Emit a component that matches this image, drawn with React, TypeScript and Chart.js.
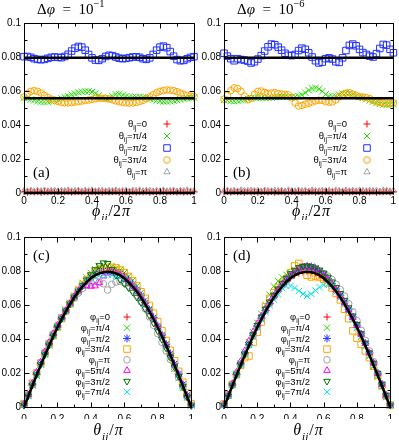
import React, { useEffect, useRef } from 'react';
import { Chart, registerables } from 'chart.js';
Chart.register(...registerables);

// ---------- data ----------
const PHI = [
  0, 0.02, 0.04, 0.06, 0.08, 0.1, 0.12, 0.14, 0.16, 0.18,
  0.2, 0.22, 0.24, 0.26, 0.28, 0.3, 0.32, 0.34, 0.36, 0.38,
  0.4, 0.42, 0.44, 0.46, 0.48, 0.5, 0.52, 0.54, 0.56, 0.58,
  0.6, 0.62, 0.64, 0.66, 0.68, 0.7, 0.72, 0.74, 0.76, 0.78,
  0.8, 0.82, 0.84, 0.86, 0.88, 0.9, 0.92, 0.94, 0.96, 0.98,
  1,
];
const THETA = [
  0, 0.025, 0.05, 0.075, 0.1, 0.125, 0.15, 0.175, 0.2, 0.225,
  0.25, 0.275, 0.3, 0.325, 0.35, 0.375, 0.4, 0.425, 0.45, 0.475,
  0.5, 0.525, 0.55, 0.575, 0.6, 0.625, 0.65, 0.675, 0.7, 0.725,
  0.75, 0.775, 0.8, 0.825, 0.85, 0.875, 0.9, 0.925, 0.95, 0.975,
  1,
];

// panel (a): Δφ = 10^-1
const A_RED = [
  0.0008, 0.0005, 0.0009, 0.0006, 0.0010, 0.0004, 0.0008, 0.0007, 0.0011, 0.0005,
  0.0009, 0.0006, 0.0008, 0.0010, 0.0005, 0.0007, 0.0009, 0.0006, 0.0011, 0.0004,
  0.0008, 0.0007, 0.0010, 0.0005, 0.0009, 0.0006, 0.0008, 0.0011, 0.0004, 0.0007,
  0.0009, 0.0006, 0.0010, 0.0005, 0.0008, 0.0007, 0.0011, 0.0004, 0.0009, 0.0006,
  0.0008, 0.0010, 0.0005, 0.0007, 0.0009, 0.0006, 0.0011, 0.0005, 0.0008, 0.0007,
  0.0009,
];
const A_GREEN = [
  0.0560, 0.0556, 0.0550, 0.0545, 0.0540, 0.0537, 0.0536, 0.0537, 0.0540, 0.0545,
  0.0550, 0.0556, 0.0563, 0.0570, 0.0578, 0.0585, 0.0591, 0.0596, 0.0598, 0.0598,
  0.0594, 0.0586, 0.0574, 0.0562, 0.0556, 0.0560, 0.0570, 0.0580, 0.0582, 0.0576,
  0.0568, 0.0564, 0.0563, 0.0564, 0.0565, 0.0563, 0.0560, 0.0555, 0.0550, 0.0545,
  0.0541, 0.0539, 0.0538, 0.0540, 0.0543, 0.0547, 0.0551, 0.0555, 0.0558, 0.0560,
  0.0561,
];
const A_BLUE = [
  0.0802, 0.0803, 0.0798, 0.0790, 0.0786, 0.0784, 0.0786, 0.0792, 0.0798, 0.0800,
  0.0798, 0.0796, 0.0803, 0.0816, 0.0835, 0.0852, 0.0862, 0.0858, 0.0840, 0.0815,
  0.0795, 0.0782, 0.0780, 0.0790, 0.0803, 0.0810, 0.0808, 0.0800, 0.0793, 0.0790,
  0.0792, 0.0796, 0.0800, 0.0801, 0.0798, 0.0790, 0.0786, 0.0795, 0.0815, 0.0840,
  0.0858, 0.0864, 0.0855, 0.0832, 0.0805, 0.0785, 0.0778, 0.0780, 0.0790, 0.0798,
  0.0802,
];
const A_ORANGE = [
  0.0565, 0.0585, 0.0598, 0.0602, 0.0598, 0.0588, 0.0575, 0.0562, 0.0552, 0.0545,
  0.0538, 0.0533, 0.0530, 0.0530, 0.0532, 0.0535, 0.0538, 0.0541, 0.0544, 0.0547,
  0.0550, 0.0555, 0.0558, 0.0558, 0.0556, 0.0553, 0.0548, 0.0542, 0.0537, 0.0533,
  0.0530, 0.0529, 0.0530, 0.0533, 0.0538, 0.0545, 0.0555, 0.0566, 0.0578, 0.0590,
  0.0598, 0.0603, 0.0606, 0.0605, 0.0602, 0.0596, 0.0588, 0.0580, 0.0574, 0.0570,
  0.0568,
];
const A_GRAY = [
  0.0012, 0.0010, 0.0014, 0.0009, 0.0013, 0.0011, 0.0015, 0.0010, 0.0012, 0.0014,
  0.0009, 0.0013, 0.0011, 0.0015, 0.0010, 0.0012, 0.0014, 0.0009, 0.0013, 0.0011,
  0.0015, 0.0010, 0.0012, 0.0014, 0.0009, 0.0013, 0.0011, 0.0015, 0.0010, 0.0012,
  0.0014, 0.0009, 0.0013, 0.0011, 0.0015, 0.0010, 0.0012, 0.0014, 0.0009, 0.0013,
  0.0011, 0.0015, 0.0010, 0.0012, 0.0014, 0.0009, 0.0013, 0.0011, 0.0015, 0.0010,
  0.0012,
];

// panel (b): Δφ = 10^-6
const B_RED = [
  0.0006, 0.0009, 0.0005, 0.0010, 0.0007, 0.0008, 0.0004, 0.0011, 0.0006, 0.0009,
  0.0005, 0.0008, 0.0010, 0.0006, 0.0009, 0.0004, 0.0008, 0.0011, 0.0005, 0.0007,
  0.0009, 0.0006, 0.0010, 0.0004, 0.0008, 0.0007, 0.0011, 0.0005, 0.0009, 0.0006,
  0.0008, 0.0010, 0.0005, 0.0007, 0.0009, 0.0004, 0.0011, 0.0006, 0.0008, 0.0010,
  0.0005, 0.0007, 0.0009, 0.0006, 0.0011, 0.0004, 0.0008, 0.0007, 0.0010, 0.0005,
  0.0008,
];
const B_GREEN = [
  0.0548, 0.0545, 0.0542, 0.0540, 0.0542, 0.0546, 0.0550, 0.0555, 0.0558, 0.0560,
  0.0561, 0.0560, 0.0560, 0.0561, 0.0562, 0.0564, 0.0566, 0.0567, 0.0567, 0.0566,
  0.0565, 0.0566, 0.0570, 0.0578, 0.0590, 0.0605, 0.0615, 0.0618, 0.0612, 0.0598,
  0.0580, 0.0568, 0.0566, 0.0570, 0.0578, 0.0585, 0.0588, 0.0586, 0.0580, 0.0572,
  0.0565, 0.0560, 0.0552, 0.0545, 0.0538, 0.0530, 0.0524, 0.0520, 0.0518, 0.0520,
  0.0524,
];
const B_BLUE = [
  0.0822, 0.0805, 0.0790, 0.0778, 0.0790, 0.0785, 0.0782, 0.0776, 0.0765, 0.0772,
  0.0788, 0.0808, 0.0835, 0.0860, 0.0876, 0.0872, 0.0858, 0.0840, 0.0822, 0.0810,
  0.0808, 0.0815, 0.0838, 0.0852, 0.0845, 0.0825, 0.0800, 0.0778, 0.0765, 0.0770,
  0.0790, 0.0795, 0.0788, 0.0772, 0.0768, 0.0795, 0.0838, 0.0868, 0.0876, 0.0866,
  0.0845, 0.0826, 0.0815, 0.0805, 0.0800, 0.0820, 0.0850, 0.0874, 0.0870, 0.0845,
  0.0825,
];
const B_ORANGE = [
  0.0552, 0.0575, 0.0602, 0.0618, 0.0615, 0.0598, 0.0570, 0.0548, 0.0556, 0.0580,
  0.0598, 0.0600, 0.0592, 0.0586, 0.0588, 0.0590, 0.0585, 0.0582, 0.0580, 0.0578,
  0.0560, 0.0530, 0.0512, 0.0515, 0.0522, 0.0528, 0.0535, 0.0542, 0.0546, 0.0545,
  0.0538, 0.0534, 0.0536, 0.0548, 0.0565, 0.0580, 0.0588, 0.0590, 0.0582, 0.0572,
  0.0566, 0.0565, 0.0562, 0.0555, 0.0545, 0.0536, 0.0532, 0.0530, 0.0528, 0.0527,
  0.0530,
];
const B_GRAY = [
  0.0011, 0.0014, 0.0010, 0.0013, 0.0009, 0.0015, 0.0012, 0.0010, 0.0014, 0.0011,
  0.0013, 0.0009, 0.0015, 0.0012, 0.0010, 0.0014, 0.0011, 0.0013, 0.0009, 0.0015,
  0.0012, 0.0010, 0.0014, 0.0011, 0.0013, 0.0009, 0.0015, 0.0012, 0.0010, 0.0014,
  0.0011, 0.0013, 0.0009, 0.0015, 0.0012, 0.0010, 0.0014, 0.0011, 0.0013, 0.0009,
  0.0015, 0.0012, 0.0010, 0.0014, 0.0011, 0.0013, 0.0009, 0.0015, 0.0012, 0.0010,
  0.0013,
];
// reference levels in (a) and (b)
const TOP_LEVELS = [0.0796, 0.0557, 0];

// reference curve in (c) and (d)
const CURVE = [
  0, 0.0062, 0.0125, 0.0186, 0.0246, 0.0305, 0.0361, 0.0416, 0.0468, 0.0517,
  0.0563, 0.0605, 0.0644, 0.0679, 0.0709, 0.0735, 0.0757, 0.0774, 0.0786, 0.0793,
  0.0796, 0.0793, 0.0786, 0.0774, 0.0757, 0.0735, 0.0709, 0.0679, 0.0644, 0.0605,
  0.0563, 0.0517, 0.0468, 0.0416, 0.0361, 0.0305, 0.0246, 0.0186, 0.0125, 0.0062,
  0,
];

// panel (c)
const C_P0 = [
  0.0008, 0.0068, 0.0130, 0.0192, 0.0250, 0.0310, 0.0365, 0.0420, 0.0472, 0.0520,
  0.0566, 0.0608, 0.0647, 0.0682, 0.0712, 0.0738, 0.0760, 0.0777, 0.0789, 0.0796,
  0.0799, 0.0796, 0.0789, 0.0777, 0.0760, 0.0738, 0.0712, 0.0682, 0.0647, 0.0608,
  0.0566, 0.0520, 0.0472, 0.0420, 0.0365, 0.0310, 0.0250, 0.0192, 0.0130, 0.0068,
  0.0008,
];
const C_P1 = [
  0.0012, 0.0070, 0.0128, 0.0184, 0.0250, 0.0315, 0.0372, 0.0425, 0.0475, 0.0528,
  0.0572, 0.0612, 0.0655, 0.0695, 0.0730, 0.0762, 0.0790, 0.0812, 0.0826, 0.0834,
  0.0830, 0.0826, 0.0818, 0.0808, 0.0790, 0.0770, 0.0745, 0.0712, 0.0672, 0.0628,
  0.0578, 0.0525, 0.0470, 0.0412, 0.0350, 0.0290, 0.0226, 0.0170, 0.0112, 0.0055,
  0.0010,
];
const C_P2 = [
  0.0015, 0.0066, 0.0130, 0.0192, 0.0252, 0.0310, 0.0366, 0.0420, 0.0470, 0.0520,
  0.0565, 0.0606, 0.0645, 0.0680, 0.0712, 0.0740, 0.0765, 0.0785, 0.0798, 0.0803,
  0.0802, 0.0800, 0.0795, 0.0785, 0.0770, 0.0748, 0.0722, 0.0690, 0.0655, 0.0615,
  0.0572, 0.0527, 0.0478, 0.0425, 0.0370, 0.0315, 0.0256, 0.0196, 0.0134, 0.0070,
  0.0015,
];
const C_P3 = [
  0.0020, 0.0075, 0.0140, 0.0200, 0.0258, 0.0315, 0.0368, 0.0420, 0.0470, 0.0520,
  0.0566, 0.0608, 0.0648, 0.0685, 0.0718, 0.0748, 0.0772, 0.0792, 0.0808, 0.0818,
  0.0822, 0.0822, 0.0818, 0.0806, 0.0790, 0.0768, 0.0742, 0.0712, 0.0678, 0.0640,
  0.0598, 0.0552, 0.0502, 0.0448, 0.0392, 0.0334, 0.0272, 0.0210, 0.0146, 0.0082,
  0.0020,
];
const C_P4 = [
  0.0015, 0.0072, 0.0138, 0.0200, 0.0262, 0.0322, 0.0378, 0.0430, 0.0480, 0.0525,
  0.0566, 0.0604, 0.0640, 0.0670, 0.0698, 0.0720, 0.0735, 0.0740, 0.0735, 0.0725,
  0.0688, 0.0722, 0.0735, 0.0738, 0.0730, 0.0712, 0.0688, 0.0655, 0.0618, 0.0578,
  0.0530, 0.0480, 0.0432, 0.0380, 0.0330, 0.0280, 0.0228, 0.0172, 0.0116, 0.0058,
  0.0012,
];
const C_P5 = [
  0.0018, 0.0072, 0.0140, 0.0205, 0.0265, 0.0325, 0.0380, 0.0432, 0.0480, 0.0525,
  0.0568, 0.0610, 0.0650, 0.0684, 0.0712, 0.0712, 0.0710, 0.0712, 0.0730, 0.0770,
  0.0788, 0.0792, 0.0786, 0.0772, 0.0755, 0.0735, 0.0708, 0.0678, 0.0644, 0.0605,
  0.0562, 0.0516, 0.0468, 0.0416, 0.0362, 0.0306, 0.0248, 0.0190, 0.0130, 0.0068,
  0.0010,
];
const C_P6 = [
  0.0010, 0.0065, 0.0128, 0.0190, 0.0250, 0.0308, 0.0364, 0.0418, 0.0470, 0.0519,
  0.0565, 0.0607, 0.0646, 0.0682, 0.0716, 0.0748, 0.0778, 0.0808, 0.0832, 0.0848,
  0.0845, 0.0810, 0.0775, 0.0750, 0.0726, 0.0702, 0.0676, 0.0646, 0.0614, 0.0578,
  0.0538, 0.0494, 0.0448, 0.0398, 0.0346, 0.0292, 0.0236, 0.0180, 0.0120, 0.0060,
  0.0008,
];
const C_P7 = [
  0.0012, 0.0066, 0.0128, 0.0190, 0.0250, 0.0308, 0.0363, 0.0418, 0.0470, 0.0519,
  0.0565, 0.0606, 0.0644, 0.0679, 0.0710, 0.0736, 0.0756, 0.0768, 0.0775, 0.0778,
  0.0778, 0.0776, 0.0772, 0.0764, 0.0752, 0.0734, 0.0710, 0.0681, 0.0646, 0.0607,
  0.0565, 0.0519, 0.0470, 0.0418, 0.0363, 0.0307, 0.0248, 0.0188, 0.0127, 0.0065,
  0.0010,
];

// panel (d)
const D_P0 = [
  0.0010, 0.0064, 0.0128, 0.0190, 0.0250, 0.0308, 0.0364, 0.0418, 0.0470, 0.0519,
  0.0565, 0.0607, 0.0646, 0.0681, 0.0711, 0.0737, 0.0759, 0.0776, 0.0788, 0.0795,
  0.0798, 0.0795, 0.0788, 0.0776, 0.0759, 0.0737, 0.0711, 0.0681, 0.0646, 0.0607,
  0.0565, 0.0519, 0.0470, 0.0418, 0.0364, 0.0308, 0.0250, 0.0190, 0.0128, 0.0064,
  0.0010,
];
const D_P1 = [
  0.0012, 0.0068, 0.0132, 0.0196, 0.0258, 0.0320, 0.0382, 0.0440, 0.0495, 0.0548,
  0.0600, 0.0660, 0.0710, 0.0742, 0.0762, 0.0778, 0.0790, 0.0806, 0.0818, 0.0826,
  0.0828, 0.0825, 0.0815, 0.0800, 0.0778, 0.0752, 0.0722, 0.0690, 0.0652, 0.0610,
  0.0565, 0.0516, 0.0466, 0.0412, 0.0356, 0.0298, 0.0238, 0.0178, 0.0118, 0.0058,
  0.0010,
];
const D_P2 = [
  0.0012, 0.0068, 0.0130, 0.0192, 0.0252, 0.0312, 0.0368, 0.0422, 0.0474, 0.0522,
  0.0568, 0.0610, 0.0650, 0.0686, 0.0718, 0.0746, 0.0770, 0.0792, 0.0810, 0.0822,
  0.0828, 0.0826, 0.0815, 0.0800, 0.0780, 0.0755, 0.0726, 0.0694, 0.0658, 0.0618,
  0.0575, 0.0530, 0.0482, 0.0430, 0.0375, 0.0318, 0.0258, 0.0196, 0.0134, 0.0070,
  0.0012,
];
const D_P3 = [
  0.0018, 0.0072, 0.0132, 0.0190, 0.0245, 0.0290, 0.0300, 0.0380, 0.0440, 0.0500,
  0.0590, 0.0640, 0.0672, 0.0700, 0.0728, 0.0752, 0.0790, 0.0830, 0.0845, 0.0820,
  0.0775, 0.0765, 0.0770, 0.0762, 0.0752, 0.0730, 0.0700, 0.0668, 0.0630, 0.0575,
  0.0520, 0.0448, 0.0405, 0.0368, 0.0330, 0.0290, 0.0240, 0.0185, 0.0125, 0.0065,
  0.0012,
];
const D_P4 = [
  0.0015, 0.0066, 0.0128, 0.0190, 0.0250, 0.0309, 0.0365, 0.0420, 0.0472, 0.0522,
  0.0568, 0.0610, 0.0650, 0.0686, 0.0718, 0.0746, 0.0770, 0.0790, 0.0806, 0.0818,
  0.0822, 0.0818, 0.0810, 0.0798, 0.0785, 0.0770, 0.0750, 0.0722, 0.0690, 0.0652,
  0.0608, 0.0560, 0.0508, 0.0452, 0.0392, 0.0330, 0.0266, 0.0200, 0.0134, 0.0068,
  0.0012,
];
const D_P5 = [
  0.0015, 0.0072, 0.0138, 0.0204, 0.0268, 0.0330, 0.0388, 0.0442, 0.0490, 0.0535,
  0.0578, 0.0618, 0.0655, 0.0690, 0.0722, 0.0750, 0.0775, 0.0796, 0.0812, 0.0822,
  0.0826, 0.0820, 0.0808, 0.0792, 0.0772, 0.0748, 0.0720, 0.0688, 0.0652, 0.0612,
  0.0570, 0.0525, 0.0478, 0.0428, 0.0374, 0.0318, 0.0258, 0.0196, 0.0132, 0.0068,
  0.0010,
];
const D_P6 = [
  0.0010, 0.0065, 0.0128, 0.0190, 0.0250, 0.0312, 0.0370, 0.0426, 0.0480, 0.0530,
  0.0576, 0.0618, 0.0658, 0.0695, 0.0728, 0.0758, 0.0785, 0.0805, 0.0820, 0.0828,
  0.0830, 0.0826, 0.0818, 0.0806, 0.0788, 0.0764, 0.0736, 0.0704, 0.0668, 0.0628,
  0.0584, 0.0536, 0.0486, 0.0432, 0.0376, 0.0318, 0.0258, 0.0196, 0.0132, 0.0068,
  0.0010,
];
const D_P7 = [
  0.0010, 0.0066, 0.0130, 0.0192, 0.0252, 0.0310, 0.0365, 0.0418, 0.0468, 0.0515,
  0.0558, 0.0598, 0.0632, 0.0662, 0.0700, 0.0712, 0.0712, 0.0700, 0.0682, 0.0665,
  0.0653, 0.0665, 0.0685, 0.0705, 0.0718, 0.0722, 0.0709, 0.0679, 0.0644, 0.0605,
  0.0563, 0.0517, 0.0468, 0.0416, 0.0361, 0.0305, 0.0246, 0.0186, 0.0125, 0.0062,
  0.0010,
];

// ticks / labels
const X_MAJOR = [0, 0.2, 0.4, 0.6, 0.8, 1];
const X_MINOR = [0.1, 0.3, 0.5, 0.7, 0.9];
const Y_MAJOR = [0, 0.02, 0.04, 0.06, 0.08, 0.1];
const Y_MINOR = [0.01, 0.03, 0.05, 0.07, 0.09];
const TOP_LEGEND = ['0', 'π/4', 'π/2', '3π/4', 'π'];
const BOT_LEGEND = ['0', 'π/4', 'π/2', '3π/4', 'π', '5π/4', '3π/2', '7π/4'];

// ---------- styles ----------
type St = { style: string; r: number; color: string; rot?: number; w?: number };
const TOP_STYLES: St[] = [
  { style: 'cross', r: 3.5, color: '#ff0000' },
  { style: 'crossRot', r: 4.5, color: '#22dd00' },
  { style: 'rect', r: 4.6, color: '#1f2fff' },
  { style: 'circle', r: 3.3, color: '#ffa500' },
  { style: 'triangle', r: 3.6, color: '#a0a0a0' },
];
const BOT_STYLES: St[] = [
  { style: 'cross', r: 3.5, color: '#ff0000' },
  { style: 'crossRot', r: 4.5, color: '#22dd00' },
  { style: 'star', r: 4, color: '#1f2fff' },
  { style: 'rect', r: 4.6, color: '#ffa500' },
  { style: 'circle', r: 3.3, color: '#a0a0a0' },
  { style: 'triangle', r: 3.8, color: '#ff00ff' },
  { style: 'triangle', r: 3.8, color: '#007000', rot: 180 },
  { style: 'crossRot', r: 4.5, color: '#00e0e8' },
];

const SERIF = "'Liberation Serif', 'DejaVu Serif', serif";
const SANS = "'Liberation Sans', 'DejaVu Sans', sans-serif";

type Seg = { t: string; sub?: boolean; sup?: boolean; it?: boolean };

function drawRich(ctx: CanvasRenderingContext2D, segs: Seg[], x: number, y: number,
  align: string, size: number, family: string, gap = 0) {
  const fontOf = (s: Seg) => `${s.it ? 'italic ' : ''}${(s.sub || s.sup) ? size * 0.7 : size}px ${family}`;
  const widths = segs.map((s) => { ctx.font = fontOf(s); return ctx.measureText(s.t).width; });
  const w = widths.reduce((a, b) => a + b, 0) + gap * (segs.length - 1);
  let cx = align === 'left' ? x : align === 'right' ? x - w : x - w / 2;
  ctx.textAlign = 'left';
  ctx.textBaseline = 'alphabetic';
  segs.forEach((s, i) => {
    ctx.font = fontOf(s);
    const dy = s.sub ? size * 0.3 : s.sup ? -size * 0.45 : 0;
    ctx.fillText(s.t, cx, y + dy);
    cx += widths[i] + gap;
  });
}

function drawMarker(ctx: CanvasRenderingContext2D, st: St, x: number, y: number) {
  const r = st.r;
  ctx.beginPath();
  if (st.style === 'circle') {
    ctx.arc(x, y, r, 0, Math.PI * 2);
  } else if (st.style === 'rect') {
    const s = r * Math.SQRT1_2;
    ctx.rect(x - s, y - s, 2 * s, 2 * s);
  } else if (st.style === 'triangle') {
    let a = ((st.rot || 0) * Math.PI) / 180;
    for (let k = 0; k < 3; k++) {
      const px = x + Math.sin(a) * r;
      const py = y - Math.cos(a) * r;
      if (k === 0) ctx.moveTo(px, py); else ctx.lineTo(px, py);
      a += (2 * Math.PI) / 3;
    }
    ctx.closePath();
  } else {
    if (st.style === 'cross' || st.style === 'star') {
      ctx.moveTo(x - r, y); ctx.lineTo(x + r, y);
      ctx.moveTo(x, y - r); ctx.lineTo(x, y + r);
    }
    if (st.style === 'crossRot' || st.style === 'star') {
      const d = r * Math.SQRT1_2;
      ctx.moveTo(x - d, y - d); ctx.lineTo(x + d, y + d);
      ctx.moveTo(x - d, y + d); ctx.lineTo(x + d, y - d);
    }
  }
  ctx.strokeStyle = st.color;
  ctx.lineWidth = st.w ?? 1;
  ctx.stroke();
}

const decorPlugin = {
  id: 'decor',
  afterDatasetsDraw(chart: any) {
    const ctx: CanvasRenderingContext2D = chart.ctx;
    const { left, right, top, bottom } = chart.chartArea;
    const xs = chart.scales.x;
    const ys = chart.scales.y;
    ctx.save();
    ctx.strokeStyle = '#000';
    ctx.lineWidth = 1;
    ctx.beginPath();
    const L = Math.round(left) + 0.5, R = Math.round(right) + 0.5;
    const T = Math.round(top) + 0.5, B = Math.round(bottom) + 0.5;
    ctx.rect(L, T, R - L, B - T);
    const xt = (v: number, len: number) => {
      const p = Math.round(xs.getPixelForValue(v)) + 0.5;
      ctx.moveTo(p, B); ctx.lineTo(p, B - len);
      ctx.moveTo(p, T); ctx.lineTo(p, T + len);
    };
    const yt = (v: number, len: number) => {
      const p = Math.round(ys.getPixelForValue(v)) + 0.5;
      ctx.moveTo(L, p); ctx.lineTo(L + len, p);
      ctx.moveTo(R, p); ctx.lineTo(R - len, p);
    };
    X_MAJOR.forEach((v) => xt(v, 5));
    X_MINOR.forEach((v) => xt(v, 3));
    Y_MAJOR.forEach((v) => yt(v, 5));
    Y_MINOR.forEach((v) => yt(v, 3));
    ctx.stroke();
    ctx.restore();
  },
  afterDraw(chart: any, _args: any, opts: any) {
    const ctx: CanvasRenderingContext2D = chart.ctx;
    ctx.save();
    ctx.fillStyle = '#000';
    if (opts.title) drawRich(ctx, opts.title.segs, opts.title.x, opts.title.y, 'left', 15, SERIF);
    if (opts.label) drawRich(ctx, [{ t: opts.label.text }], opts.label.x, opts.label.y, 'left', 15, SERIF);
    if (opts.xTitle) drawRich(ctx, opts.xTitle.segs, opts.xTitle.x, opts.xTitle.y, 'center', 16, SERIF, 1);
    if (opts.legend) {
      const lg = opts.legend;
      let row = 0;
      chart.data.datasets.forEach((ds: any) => {
        if (!ds.legendStyle) return;
        const y = lg.y0 + row * lg.dy;
        ctx.fillStyle = '#000';
        drawRich(ctx, [{ t: lg.sym }, { t: 'ij', sub: true }, { t: '=' + ds.legendText }],
          lg.textX, y + lg.size * 0.35, 'right', lg.size, SANS);
        drawMarker(ctx, ds.legendStyle, lg.markerX, y);
        row++;
      });
    }
    ctx.restore();
  },
};

const pts = (xs: number[], ys: number[]) => ys.map((y, i) => ({ x: xs[i], y }));

function series(sym: string, text: string, xs: number[], ys: number[], st: St, idx: number) {
  return {
    label: sym + 'ij=' + text,
    legendText: text,
    legendStyle: st,
    data: pts(xs, ys),
    pointStyle: st.style,
    pointRadius: st.r,
    pointRotation: st.rot || 0,
    borderColor: st.color,
    backgroundColor: 'rgba(0,0,0,0)',
    pointBorderWidth: st.w ?? 1,
    borderWidth: st.w ?? 1,
    showLine: false,
    clip: false,
    order: 50 - idx,
  };
}

function refLine(xs: number[], ys: number[]) {
  return {
    data: pts(xs, ys),
    showLine: true,
    borderColor: '#000',
    backgroundColor: '#000',
    borderWidth: 2.5,
    pointRadius: 0,
    fill: false,
    tension: 0,
    clip: false,
    order: -10,
  };
}

const fmt = (v: any) => String(parseFloat(Number(v).toFixed(4)));

function makeConfig(datasets: any[], padTop: number, padBottom: number, padRight: number, xPad: number, decor: any) {
  const tickFont = { family: SANS, size: 10 };
  return {
    type: 'scatter',
    data: { datasets },
    plugins: [decorPlugin],
    options: {
      responsive: false,
      animation: false,
      events: [],
      layout: { padding: { top: padTop, right: padRight, bottom: padBottom, left: 0 } },
      plugins: {
        legend: { display: false },
        tooltip: { enabled: false },
        title: { display: false },
        decor,
      },
      scales: {
        x: {
          type: 'linear', min: 0, max: 1,
          ticks: { stepSize: 0.2, font: tickFont, color: '#000', padding: xPad, maxRotation: 0, autoSkip: false, callback: fmt },
          grid: { display: false, drawTicks: false },
          border: { display: false },
          afterFit: (s: any) => { s.height = 12; },
        },
        y: {
          type: 'linear', min: 0, max: 0.1,
          ticks: { stepSize: 0.02, font: tickFont, color: '#000', padding: 3, autoSkip: false, callback: fmt },
          grid: { display: false, drawTicks: false },
          border: { display: false },
          afterFit: (s: any) => { s.width = 24; },
        },
      },
    },
  };
}

const PHI_TITLE: Seg[] = [{ t: 'ϕ', it: true }, { t: 'ij', sub: true, it: true }, { t: '/2', it: false }, { t: 'π', it: true }];
const THETA_TITLE: Seg[] = [{ t: 'θ', it: true }, { t: 'ij', sub: true, it: true }, { t: '/', it: false }, { t: 'π', it: true }];
const titleSegs = (exp: string): Seg[] => [
  { t: 'Δ' }, { t: 'φ', it: true }, { t: '\u2002=\u2002' }, { t: '10' }, { t: exp, sup: true },
];

function topConfig(red: number[], green: number[], blue: number[], orange: number[], gray: number[],
  exp: string, label: string, padRight: number) {
  const vals = [red, green, blue, orange, gray];
  const ds: any[] = [
    refLine([0, 1], [TOP_LEVELS[0], TOP_LEVELS[0]]),
    refLine([0, 1], [TOP_LEVELS[1], TOP_LEVELS[1]]),
    refLine([0, 1], [TOP_LEVELS[2], TOP_LEVELS[2]]),
  ];
  vals.forEach((v, i) => ds.push(series('θ', TOP_LEGEND[i], PHI, v, TOP_STYLES[i], i)));
  return makeConfig(ds, 23, 15, padRight, 2, {
    title: { segs: titleSegs(exp), x: 37, y: 14 },
    label: { text: label, x: 33, y: 177 },
    xTitle: { segs: PHI_TITLE, x: 111, y: 216 },
    legend: { sym: 'θ', textX: 147, markerX: 167, y0: 124, dy: 12, size: 9.5 },
  });
}

function botConfig(vals: number[][], label: string, padRight: number) {
  const ds: any[] = [refLine(THETA, CURVE)];
  vals.forEach((v, i) => ds.push(series('φ', BOT_LEGEND[i], THETA, v, BOT_STYLES[i], i)));
  return makeConfig(ds, 17, 21, padRight, 6, {
    label: { text: label, x: 33, y: 40 },
    xTitle: { segs: THETA_TITLE, x: 108, y: 215 },
    legend: { sym: 'φ', textX: 110, markerX: 127, y0: 97, dy: 10.7, size: 9.5 },
  });
}

function Panel({ left, top, width, height, make }: { left: number; top: number; width: number; height: number; make: () => any }) {
  const ref = useRef<HTMLCanvasElement>(null);
  useEffect(() => {
    const chart = new Chart(ref.current as HTMLCanvasElement, make());
    return () => chart.destroy();
  }, []);
  return (
    <canvas ref={ref} width={width} height={height}
      style={{ position: 'absolute', left, top, width, height }} />
  );
}

export default function App() {
  return (
    <div style={{ position: 'absolute', left: 0, top: 0, width: 399, height: 440, background: '#fff' }}>
      <Panel left={0} top={0} width={200} height={220}
        make={() => topConfig(A_RED, A_GREEN, A_BLUE, A_ORANGE, A_GRAY, '−1', '(a)', 6)} />
      <Panel left={200} top={0} width={199} height={220}
        make={() => topConfig(B_RED, B_GREEN, B_BLUE, B_ORANGE, B_GRAY, '−6', '(b)', 5)} />
      <Panel left={0} top={220} width={200} height={220}
        make={() => botConfig([C_P0, C_P1, C_P2, C_P3, C_P4, C_P5, C_P6, C_P7], '(c)', 6)} />
      <Panel left={200} top={220} width={199} height={220}
        make={() => botConfig([D_P0, D_P1, D_P2, D_P3, D_P4, D_P5, D_P6, D_P7], '(d)', 5)} />
    </div>
  );
}
